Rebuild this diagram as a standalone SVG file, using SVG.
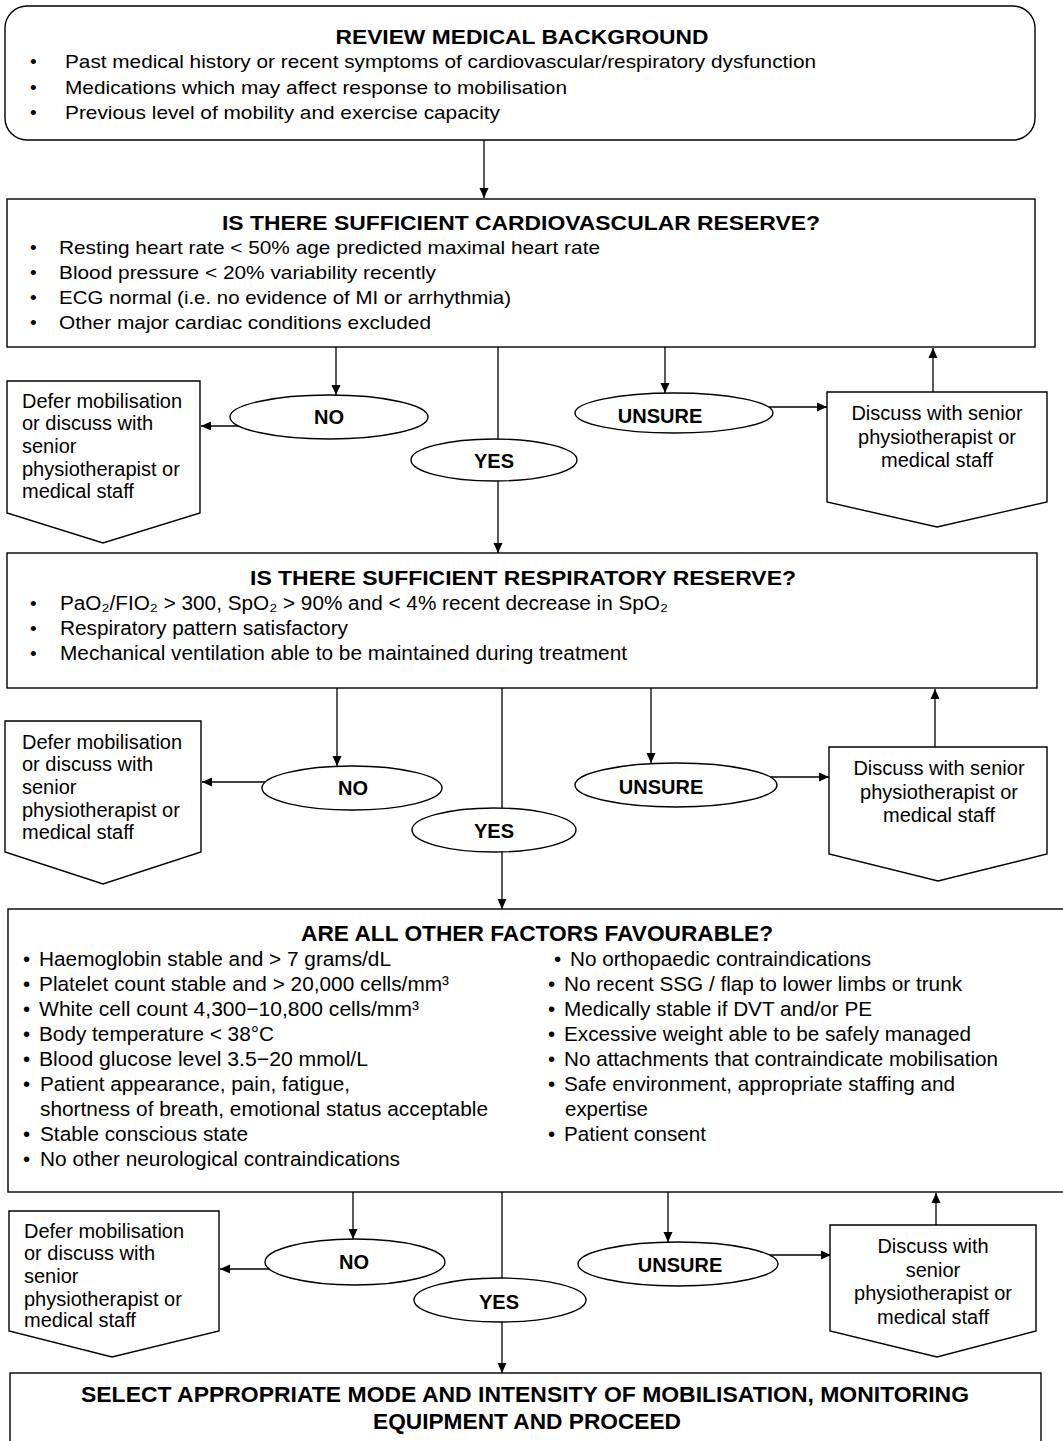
<svg xmlns="http://www.w3.org/2000/svg" width="1063" height="1441" viewBox="0 0 1063 1441">
<style>
.box{fill:#fff;stroke:#000;stroke-width:1.4}
.ln{stroke:#000;stroke-width:1.3;fill:none}
.ar{stroke:#000;stroke-width:1.3;fill:none;marker-end:url(#ah)}
.t{font-family:"Liberation Sans",Arial,sans-serif;fill:#000}
.b{font-weight:bold}
.c{text-anchor:middle}
.s19{font-size:19px}
.s20{font-size:20px}
.s21{font-size:21px}
.lb{font-family:"Liberation Sans",Arial,sans-serif;font-weight:bold;font-size:20px;text-anchor:middle}
</style>
<defs>
<marker id="ah" viewBox="0 0 10 10" refX="10" refY="5" markerWidth="10" markerHeight="10" markerUnits="userSpaceOnUse" orient="auto"><path d="M0,0.5 L10,5 L0,9.5 Z" fill="#000"/></marker>
</defs>
<rect width="1063" height="1441" fill="#fff"/>

<g id="connectors">
<line class="ar" x1="484" y1="140" x2="484" y2="198"/>
<line class="ar" x1="336" y1="347" x2="336" y2="395"/>
<line class="ar" x1="239" y1="426" x2="201" y2="426"/>
<line class="ar" x1="498" y1="347" x2="498" y2="553"/>
<line class="ar" x1="665" y1="347" x2="665" y2="393"/>
<line class="ar" x1="768" y1="407" x2="827" y2="407"/>
<line class="ar" x1="933" y1="392" x2="933" y2="348"/>
<line class="ar" x1="337" y1="688" x2="337" y2="766"/>
<line class="ar" x1="266" y1="782" x2="202" y2="782"/>
<line class="ar" x1="502" y1="688" x2="502" y2="909"/>
<line class="ar" x1="651" y1="688" x2="651" y2="763"/>
<line class="ar" x1="770" y1="777" x2="829" y2="777"/>
<line class="ar" x1="935" y1="747" x2="935" y2="689"/>
<line class="ar" x1="353" y1="1192" x2="353" y2="1239"/>
<line class="ar" x1="270" y1="1269" x2="220" y2="1269"/>
<line class="ar" x1="502" y1="1192" x2="502" y2="1373"/>
<line class="ar" x1="668" y1="1192" x2="668" y2="1242"/>
<line class="ar" x1="769" y1="1255" x2="831" y2="1255"/>
<line class="ar" x1="936" y1="1225" x2="936" y2="1193"/>
</g>

<g id="review">
<rect class="box" x="5" y="6" width="1030" height="134" rx="22" ry="22"/>
<text class="t b c s21" x="522" y="43.5" textLength="373" lengthAdjust="spacingAndGlyphs">REVIEW MEDICAL BACKGROUND</text>
<text class="t s19" x="30" y="68">•</text>
<text class="t s19" x="65" y="68" textLength="751" lengthAdjust="spacingAndGlyphs">Past medical history or recent symptoms of cardiovascular/respiratory dysfunction</text>
<text class="t s19" x="30" y="94">•</text>
<text class="t s19" x="65" y="94" textLength="502" lengthAdjust="spacingAndGlyphs">Medications which may affect response to mobilisation</text>
<text class="t s19" x="30" y="119">•</text>
<text class="t s19" x="65" y="119" textLength="435" lengthAdjust="spacingAndGlyphs">Previous level of mobility and exercise capacity</text>
</g>

<g id="cardio">
<rect class="box" x="7" y="199" width="1028" height="148"/>
<text class="t b c s21" x="521" y="229.5" textLength="598" lengthAdjust="spacingAndGlyphs">IS THERE SUFFICIENT CARDIOVASCULAR RESERVE?</text>
<text class="t s19" x="30" y="254">•</text>
<text class="t s19" x="59" y="254" textLength="541" lengthAdjust="spacingAndGlyphs">Resting heart rate &lt; 50% age predicted maximal heart rate</text>
<text class="t s19" x="30" y="279">•</text>
<text class="t s19" x="59" y="279" textLength="377" lengthAdjust="spacingAndGlyphs">Blood pressure &lt; 20% variability recently</text>
<text class="t s19" x="30" y="304">•</text>
<text class="t s19" x="59" y="304" textLength="452" lengthAdjust="spacingAndGlyphs">ECG normal (i.e. no evidence of MI or arrhythmia)</text>
<text class="t s19" x="30" y="329">•</text>
<text class="t s19" x="59" y="329" textLength="372" lengthAdjust="spacingAndGlyphs">Other major cardiac conditions excluded</text>
</g>

<g id="no1">
<ellipse class="box" cx="329" cy="417" rx="99" ry="22"/>
<text class="lb" x="329" y="424">NO</text>
</g>
<g id="yes1">
<ellipse class="box" cx="494" cy="460" rx="83" ry="21"/>
<text class="lb" x="494" y="468">YES</text>
</g>
<g id="unsure1">
<ellipse class="box" cx="674" cy="413" rx="99" ry="20"/>
<text class="lb" x="660" y="423">UNSURE</text>
</g>
<g id="defer1">
<path class="box" d="M7,381 H200 V513 L103,543 L7,513 Z"/>
<text class="t s20" x="22" y="408">Defer mobilisation</text>
<text class="t s20" x="22" y="430">or discuss with</text>
<text class="t s20" x="22" y="453">senior</text>
<text class="t s20" x="22" y="476">physiotherapist or</text>
<text class="t s20" x="22" y="498">medical staff</text>
</g>
<g id="discuss1">
<path class="box" d="M827,392 H1047 V502 L937,527 L827,502 Z"/>
<text class="t s20 c" x="937" y="420">Discuss with senior</text>
<text class="t s20 c" x="937" y="444">physiotherapist or</text>
<text class="t s20 c" x="937" y="467">medical staff</text>
</g>

<g id="resp">
<rect class="box" x="7" y="553" width="1030" height="135"/>
<text class="t b c s21" x="523" y="584.5" textLength="546" lengthAdjust="spacingAndGlyphs">IS THERE SUFFICIENT RESPIRATORY RESERVE?</text>
<text class="t s19" x="30" y="610">•</text>
<text class="t s20" x="60" y="610" textLength="608" lengthAdjust="spacingAndGlyphs">PaO₂/FIO₂ &gt; 300, SpO₂ &gt; 90% and &lt; 4% recent decrease in SpO₂</text>
<text class="t s19" x="30" y="635">•</text>
<text class="t s20" x="60" y="635" textLength="288" lengthAdjust="spacingAndGlyphs">Respiratory pattern satisfactory</text>
<text class="t s19" x="30" y="660">•</text>
<text class="t s20" x="60" y="660" textLength="567" lengthAdjust="spacingAndGlyphs">Mechanical ventilation able to be maintained during treatment</text>
</g>

<g id="no2">
<ellipse class="box" cx="352" cy="788" rx="90" ry="22"/>
<text class="lb" x="353" y="795">NO</text>
</g>
<g id="yes2">
<ellipse class="box" cx="494" cy="830" rx="82" ry="22"/>
<text class="lb" x="494" y="838">YES</text>
</g>
<g id="unsure2">
<ellipse class="box" cx="676" cy="785" rx="101" ry="22"/>
<text class="lb" x="661" y="794">UNSURE</text>
</g>
<g id="defer2">
<path class="box" d="M5,721 H201 V852 L103,884 L5,852 Z"/>
<text class="t s20" x="22" y="749">Defer mobilisation</text>
<text class="t s20" x="22" y="771">or discuss with</text>
<text class="t s20" x="22" y="794">senior</text>
<text class="t s20" x="22" y="817">physiotherapist or</text>
<text class="t s20" x="22" y="839">medical staff</text>
</g>
<g id="discuss2">
<path class="box" d="M829,747 H1047 V854 L938,881 L829,854 Z"/>
<text class="t s20 c" x="939" y="775">Discuss with senior</text>
<text class="t s20 c" x="939" y="799">physiotherapist or</text>
<text class="t s20 c" x="939" y="822">medical staff</text>
</g>

<g id="other">
<rect class="box" x="8" y="909" width="1070" height="283"/>
<text class="t b c" font-size="22" x="537" y="941" textLength="472" lengthAdjust="spacingAndGlyphs">ARE ALL OTHER FACTORS FAVOURABLE?</text>
<g class="t" font-size="20.5">
<text x="23" y="966">•</text><text x="39" y="966" textLength="352" lengthAdjust="spacingAndGlyphs">Haemoglobin stable and &gt; 7 grams/dL</text>
<text x="23" y="991">•</text><text x="39" y="991" textLength="410" lengthAdjust="spacingAndGlyphs">Platelet count stable and &gt; 20,000 cells/mm³</text>
<text x="23" y="1016">•</text><text x="39" y="1016" textLength="380" lengthAdjust="spacingAndGlyphs">White cell count 4,300−10,800 cells/mm³</text>
<text x="23" y="1041">•</text><text x="39" y="1041" textLength="235" lengthAdjust="spacingAndGlyphs">Body temperature &lt; 38°C</text>
<text x="23" y="1066">•</text><text x="39" y="1066" textLength="329" lengthAdjust="spacingAndGlyphs">Blood glucose level 3.5−20 mmol/L</text>
<text x="23" y="1091">•</text><text x="40" y="1091" textLength="310" lengthAdjust="spacingAndGlyphs">Patient appearance, pain, fatigue,</text>
<text x="40" y="1116" textLength="448" lengthAdjust="spacingAndGlyphs">shortness of breath, emotional status acceptable</text>
<text x="23" y="1141">•</text><text x="40" y="1141" textLength="208" lengthAdjust="spacingAndGlyphs">Stable conscious state</text>
<text x="23" y="1166">•</text><text x="40" y="1166" textLength="360" lengthAdjust="spacingAndGlyphs">No other neurological contraindications</text>
<text x="554" y="966">•</text><text x="570" y="966" textLength="301" lengthAdjust="spacingAndGlyphs">No orthopaedic contraindications</text>
<text x="548" y="991">•</text><text x="564" y="991" textLength="398" lengthAdjust="spacingAndGlyphs">No recent SSG / flap to lower limbs or trunk</text>
<text x="548" y="1016">•</text><text x="564" y="1016" textLength="308" lengthAdjust="spacingAndGlyphs">Medically stable if DVT and/or PE</text>
<text x="548" y="1041">•</text><text x="564" y="1041" textLength="407" lengthAdjust="spacingAndGlyphs">Excessive weight able to be safely managed</text>
<text x="548" y="1066">•</text><text x="564" y="1066" textLength="434" lengthAdjust="spacingAndGlyphs">No attachments that contraindicate mobilisation</text>
<text x="548" y="1091">•</text><text x="564" y="1091" textLength="391" lengthAdjust="spacingAndGlyphs">Safe environment, appropriate staffing and</text>
<text x="565" y="1116" textLength="83" lengthAdjust="spacingAndGlyphs">expertise</text>
<text x="548" y="1141">•</text><text x="564" y="1141" textLength="142" lengthAdjust="spacingAndGlyphs">Patient consent</text>
</g>
</g>

<g id="no3">
<ellipse class="box" cx="355" cy="1262" rx="90" ry="23"/>
<text class="lb" x="354" y="1269">NO</text>
</g>
<g id="yes3">
<ellipse class="box" cx="500" cy="1300" rx="86" ry="22"/>
<text class="lb" x="499" y="1309">YES</text>
</g>
<g id="unsure3">
<ellipse class="box" cx="678" cy="1264" rx="100" ry="22"/>
<text class="lb" x="680" y="1272">UNSURE</text>
</g>
<g id="defer3">
<path class="box" d="M9,1211 H219 V1331 L112,1357 L9,1331 Z"/>
<text class="t s20" x="24" y="1238">Defer mobilisation</text>
<text class="t s20" x="24" y="1260">or discuss with</text>
<text class="t s20" x="24" y="1283">senior</text>
<text class="t s20" x="24" y="1306">physiotherapist or</text>
<text class="t s20" x="24" y="1327">medical staff</text>
</g>
<g id="discuss3">
<path class="box" d="M830,1225 H1036 V1331 L937,1357 L830,1331 Z"/>
<text class="t s20 c" x="933" y="1253">Discuss with</text>
<text class="t s20 c" x="933" y="1277">senior</text>
<text class="t s20 c" x="933" y="1300">physiotherapist or</text>
<text class="t s20 c" x="933" y="1324">medical staff</text>
</g>

<g id="select">
<rect class="box" x="10" y="1373" width="1031" height="90"/>
<text class="t b c" font-size="22" x="525" y="1402" textLength="888" lengthAdjust="spacingAndGlyphs">SELECT APPROPRIATE MODE AND INTENSITY OF MOBILISATION, MONITORING</text>
<text class="t b c" font-size="22" x="527" y="1429" textLength="308" lengthAdjust="spacingAndGlyphs">EQUIPMENT AND PROCEED</text>
</g>
</svg>
